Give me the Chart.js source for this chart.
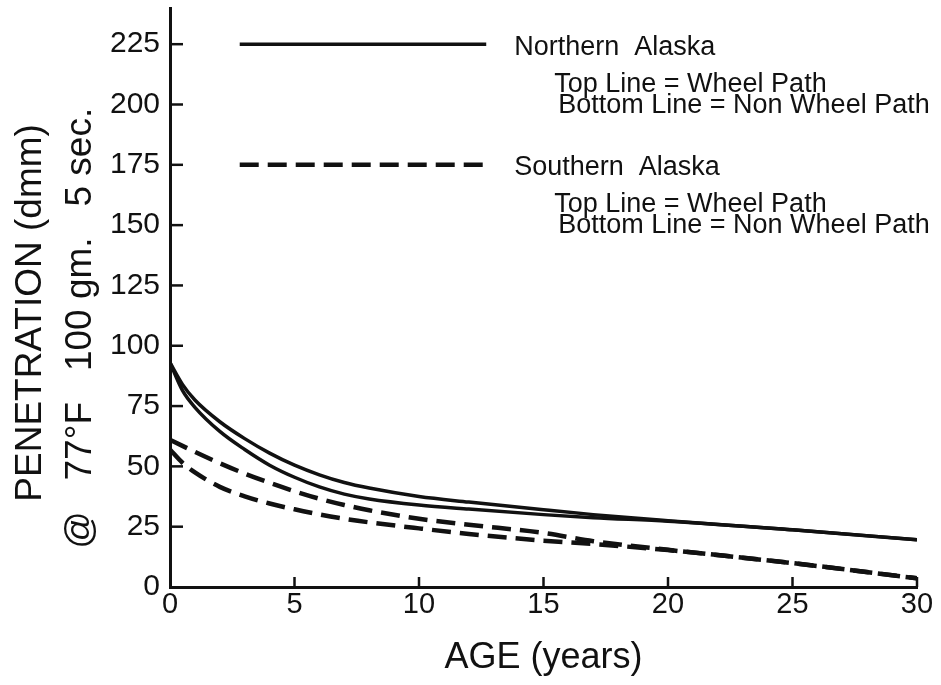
<!DOCTYPE html>
<html>
<head>
<meta charset="utf-8">
<script src="https://cdn.jsdelivr.net/npm/chart.js@4.4.1/dist/chart.umd.min.js"></script>
<style>
  html, body { margin: 0; padding: 0; background: #fff; }
  #wrap { width: 941px; height: 685px; }
</style>
</head>
<body>
<div id="wrap"><canvas id="pen-chart" width="941" height="685"></canvas></div>
<script>
// ---- data ----
const ages = [0, 0.5, 1, 2, 3, 4, 5, 6, 7, 8, 10, 12, 15, 17, 20, 25, 30];
const northWheel    = [93, 84, 77.5, 68.5, 61.5, 55.5, 50.5, 46.5, 43.3, 41, 37.5, 35.2, 32, 30, 27.5, 23.7, 19.6];
const northNonWheel = [93, 81.5, 74.5, 64.5, 57, 50.5, 45.5, 41.5, 38.5, 36.5, 34, 32.3, 30, 28.7, 27.3, 23.7, 19.6];
const southWheel    = [61, 58.5, 56, 51.3, 47, 43.2, 39.7, 36.6, 34, 31.8, 28.3, 25.8, 22.4, 19.0, 15.4, 9.9, 3.6];
const southNonWheel = [57, 51.5, 47.5, 41.5, 37.6, 34.6, 32.2, 30.1, 28.3, 26.8, 24.3, 22, 19.2, 17.8, 15.3, 9.9, 3.6];

const xTicks = [0, 5, 10, 15, 20, 25, 30];
const yTicks = [0, 25, 50, 75, 100, 125, 150, 175, 200, 225];
const yMax = 240;

const legendGroups = [
  { name: 'Northern  Alaska', dashed: false, at: 225 },
  { name: 'Southern  Alaska', dashed: true,  at: 175 }
];
const legendSub = ['Top Line = Wheel Path', 'Bottom Line = Non Wheel Path'];

// trailing blanks nudge the rotated lines down, like the lettering on the original
const yTitle = ['PENETRATION (dmm)   ', '@   77°F   100 gm.   5 sec.      '];

const FONT = '"Liberation Sans", Arial, sans-serif';
const INK = '#111';
const DASH = [19, 9];

const pts = ys => ages.map((a, i) => ({ x: a, y: ys[i] }));

function series(label, ys, dashed) {
  return {
    label, data: pts(ys),
    borderColor: INK, borderWidth: dashed ? 4.5 : 3.5,
    borderDash: dashed ? DASH : [],
    pointRadius: 0, fill: false,
    cubicInterpolationMode: 'monotone'
  };
}

// inward tick marks + hand-lettered legend
const figureExtras = {
  id: 'figureExtras',
  afterDraw(chart) {
    const { ctx, chartArea: area, scales: { x, y } } = chart;
    ctx.save();
    ctx.strokeStyle = INK;
    ctx.lineWidth = 2.5;
    x.ticks.forEach(t => {
      if (t.value === 0) return;
      const px = x.getPixelForValue(t.value);
      ctx.beginPath(); ctx.moveTo(px, area.bottom); ctx.lineTo(px, area.bottom - 10); ctx.stroke();
    });
    y.ticks.forEach(t => {
      if (t.value === 0) return;
      const py = y.getPixelForValue(t.value);
      ctx.beginPath(); ctx.moveTo(area.left, py); ctx.lineTo(area.left + 13, py); ctx.stroke();
    });

    // legend
    const x0 = x.getPixelForValue(2.8), x1 = x.getPixelForValue(12.7);
    ctx.fillStyle = INK;
    ctx.textBaseline = 'middle';
    ctx.textAlign = 'left';
    legendGroups.forEach(g => {
      const ly = y.getPixelForValue(g.at);
      ctx.lineWidth = g.dashed ? 4.5 : 3.5;
      ctx.setLineDash(g.dashed ? DASH : []);
      ctx.beginPath(); ctx.moveTo(x0, ly); ctx.lineTo(x1, ly); ctx.stroke();
      ctx.setLineDash([]);
      ctx.font = '27px ' + FONT;
      ctx.fillText(g.name, x1 + 28, ly + 3);
      ctx.fillText(legendSub[0], x1 + 68, ly + 40);
      ctx.fillText(legendSub[1], x1 + 72, ly + 61);
    });
    ctx.restore();
  }
};

new Chart(document.getElementById('pen-chart').getContext('2d'), {
  type: 'line',
  data: {
    datasets: [
      series('Northern Alaska - Wheel Path', northWheel, false),
      series('Northern Alaska - Non Wheel Path', northNonWheel, false),
      series('Southern Alaska - Wheel Path', southWheel, true),
      series('Southern Alaska - Non Wheel Path', southNonWheel, true)
    ]
  },
  options: {
    responsive: false,
    animation: false,
    events: [],
    layout: { padding: { top: 8, right: 24, left: 0, bottom: 0 } },
    plugins: { legend: { display: false }, tooltip: { enabled: false } },
    scales: {
      x: {
        type: 'linear', min: 0, max: 30,
        afterBuildTicks: s => { s.ticks = xTicks.map(v => ({ value: v })); },
        afterFit: s => { s.height = 98; },
        grid: { display: false, drawTicks: false },
        border: { display: true, color: INK, width: 3 },
        ticks: { color: INK, padding: 1, font: { family: FONT, size: 29 } },
        title: {
          display: true, text: 'AGE (years)', color: INK,
          font: { family: FONT, size: 36 }, padding: { top: 0, bottom: 5 }
        }
      },
      y: {
        type: 'linear', min: 0, max: yMax,
        afterBuildTicks: s => { s.ticks = yTicks.map(v => ({ value: v })); },
        afterFit: s => { s.width = 170; s.paddingTop = 0; s.paddingBottom = 0; },
        grid: { display: false, drawTicks: false },
        border: { display: true, color: INK, width: 3 },
        ticks: { color: INK, padding: 10, font: { family: FONT, size: 30 } },
        title: {
          display: true,
          text: yTitle,
          color: INK,
          font: { family: FONT, size: 37, lineHeight: 1.35 },
          padding: { top: 6, bottom: 0 }
        }
      }
    }
  },
  plugins: [figureExtras]
});
</script>
</body>
</html>
